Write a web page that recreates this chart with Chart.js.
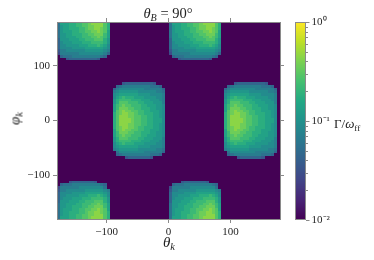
<!DOCTYPE html>
<html>
<head>
<meta charset="utf-8">
<script src="https://cdn.jsdelivr.net/npm/chart.js@4.4.1/dist/chart.umd.min.js"></script>
<style>
  body { margin: 0; background: #fff; }
  #wrap { position: relative; width: 374px; height: 260px; font-family: "Liberation Serif", "Times New Roman", serif; color: #222; }
  canvas { position: absolute; top: 0; }
  .lbl { position: absolute; white-space: nowrap; line-height: 1; }
  .lbl sub { font-size: 70%; vertical-align: baseline; position: relative; top: 0.3em; }
</style>
</head>
<body>
<div id="wrap">
  <canvas id="map" width="374" height="260" style="left:0"></canvas>
  <canvas id="bar" width="84" height="260" style="left:290px"></canvas>
  <div class="lbl" style="left:0;width:336px;top:6px;text-align:center;font-size:14.5px"><i>θ</i><sub><i>B</i></sub> = 90°</div>
  <div class="lbl" style="left:139px;width:60px;top:235px;text-align:center;font-size:15px"><i>θ</i><sub><i>k</i></sub></div>
  <div class="lbl" style="left:-15px;width:60px;top:111px;text-align:center;font-size:15px;transform:rotate(-90deg)"><i>φ</i><sub><i>k</i></sub></div>
  <div class="lbl" style="left:334px;top:117px;font-size:13px">Γ/<i>ω</i><sub>ff</sub></div>
</div>
<script>
// growth rate Γ/ω_ff on 5° cells, one char per cell:
// '.' = below 1e-2, 'a'..'t' = 20 log steps from 1e-2 to 1e0
const levelCode = "abcdefghijklmnopqrst";
const cellSize = 5;

// blobs around phi = 0 (rows from phi 70 down to -70)
const midRows = [
    "...fgggggggggf....",
    ".ghiiiiiiiiihhhg..",
    "gijjjjjjjjiiiiiig.",
    "ijkkkkkkjjjjjjiih.",
    "jkllllllkkkkjjjji.",
    "jlmnmmmlllkkkkjji.",
    "kmnnnnmmmlllkkkji.",
    "kmooonnnmmlllkkki.",
    "lnopoonnnmmlllkkj.",
    "lnpppoonnmmmllkkj.",
    "lopqppoonnmmlllkj.",
    "mopqqpponnmmmllkj.",
    "moqqqppoonnmmllkj.",
    "moqqqqpoonnmmlllj.",
    "moqqqqpoonnmmlllj.",
    "moqqqppoonnmmllkj.",
    "mopqqpponnmmmllkj.",
    "lopqppoonnmmlllkj.",
    "lnpppoonnmmmllkkj.",
    "lnopoonnnmmlllkkj.",
    "kmooonnnmmlllkkki.",
    "kmnnnnmmmlllkkkji.",
    "jlmnmmmlllkkkkjji.",
    "jkllllllkkkkjjjji.",
    "ijkkkkkkjjjjjjiih.",
    ".hjjjjjjjjiiiiiig.",
    ".ghiiiiiiiiihhhg..",
    "....fgggggggf....."
];
const midTheta = [-90, 90];
const midPhiTop = 70;

// blobs at the top edge (rows from phi 180 down to 110)
const topRows = [
    "hlllmmnnoopqqqqom.",
    "hkllmmnnooppqqqom.",
    "hkllmmmnnoppqqpom.",
    "hklllmmnnooppqpol.",
    "hkkllmmmnnoopppnl.",
    "hkklllmmnnnooponl.",
    "gkkklllmmnnnooomk.",
    "gjkkklllmmmnnnnmk.",
    "gjjkkkklllmmmnmlj.",
    "gjjjjkkkkllllllkj.",
    "fiijjjjjjkkkkkkji.",
    "eiiiiiijjjjjjjjig.",
    ".ghhhiiiiiiiiihg..",
    "...fgggggggggf...."
];
// blobs at the bottom edge (rows from phi -110 down to -180)
const bottomRows = [
    "....fgggggggf.....",
    ".ghhhiiiiiiiiihg..",
    "eiiiiiijjjjjjjjh..",
    "fiijjjjjjkkkkkkji.",
    "gjjjjkkkkllllllkj.",
    "gjjkkkklllmmmnmlj.",
    "gjkkklllmmmnnnnmk.",
    "gkkklllmmnnnooomk.",
    "hkklllmmnnnooponl.",
    "hkkllmmmnnoopppnl.",
    "hklllmmnnooppqpol.",
    "hkllmmmnnoppqqpom.",
    "hkllmmnnooppqqqom.",
    "hlllmmnnoopqqqqom."
];
const edgeTheta = [-180, 0];
const topPhiTop = 180;
const bottomPhiTop = -110;

const thetaTicks = [-100, 0, 100];
const phiTicks = [-100, 0, 100];
const cbTicks = [0.01, 0.1, 1];
const cbLabels = ["10\u207B\u00B2", "10\u207B\u00B9", "10\u2070"];
const cbMin = 0.01, cbMax = 1;

const viridis = [[68,1,84],[72,36,117],[65,68,135],[53,95,141],[42,120,142],[33,145,140],
                 [34,168,132],[68,191,112],[122,209,81],[189,223,38],[253,231,37]];

function viridisAt(t) {
    t = Math.max(0, Math.min(1, t));
    const p = t * 10;
    const i = Math.min(9, Math.floor(p));
    const f = p - i;
    const a = viridis[i], b = viridis[i + 1];
    return `rgb(${a.map((c, k) => Math.round(c + (b[k] - c) * f)).join(",")})`;
}

function colorFor(v) {
    return viridisAt((Math.log10(v) - Math.log10(cbMin)) / (Math.log10(cbMax) - Math.log10(cbMin)));
}

function buildCells(rows, thetaStarts, phiTop) {
    const out = [];
    thetaStarts.forEach(t0 => {
        rows.forEach((row, r) => {
            [...row].forEach((ch, j) => {
                const idx = levelCode.indexOf(ch);
                if (idx < 0) return;
                out.push({
                    x: t0 + cellSize * (j + 0.5),
                    y: phiTop - cellSize * (r + 0.5),
                    v: Math.pow(10, -2 + 2 * (idx + 0.5) / levelCode.length)
                });
            });
        });
    });
    return out;
}

const cells = [
    ...buildCells(midRows, midTheta, midPhiTop),
    ...buildCells(topRows, edgeTheta, topPhiTop),
    ...buildCells(bottomRows, edgeTheta, bottomPhiTop)
];

Chart.defaults.font.family = "'Liberation Serif', 'Times New Roman', serif";
Chart.defaults.font.size = 11;
Chart.defaults.color = "#262626";

const frame = "#8a8a8a";

const heatmap = {
    id: "heatmap",
    beforeDraw(chart) {
        const { ctx, chartArea: a, scales: { x, y } } = chart;
        ctx.save();
        ctx.beginPath();
        ctx.rect(a.left, a.top, a.width, a.height);
        ctx.clip();
        ctx.fillStyle = viridisAt(0);
        ctx.fillRect(a.left, a.top, a.width, a.height);
        chart.data.datasets[0].data.forEach(c => {
            const x0 = Math.round(x.getPixelForValue(c.x - cellSize / 2));
            const x1 = Math.round(x.getPixelForValue(c.x + cellSize / 2));
            const y0 = Math.round(y.getPixelForValue(c.y + cellSize / 2));
            const y1 = Math.round(y.getPixelForValue(c.y - cellSize / 2));
            ctx.fillStyle = colorFor(c.v);
            ctx.fillRect(x0, y0, x1 - x0, y1 - y0);
        });
        ctx.restore();
    }
};

function axis(position, tickVals, showLabels, size) {
    const horizontal = position === "top" || position === "bottom";
    return {
        type: "linear",
        position,
        min: -180,
        max: 180,
        afterBuildTicks: s => { s.ticks = tickVals.map(v => ({ value: v })); },
        afterFit: s => { if (horizontal) s.height = size; else s.width = size; },
        grid: { drawOnChartArea: false, drawTicks: true, tickLength: 4, color: frame },
        border: { display: true, color: frame, z: 1 },
        ticks: {
            display: showLabels,
            padding: 3,
            callback: v => (v < 0 ? "\u2212" + Math.abs(v) : String(v))
        }
    };
}

new Chart(document.getElementById("map"), {
    type: "scatter",
    data: { datasets: [{ data: cells, pointRadius: 0, pointHoverRadius: 0 }] },
    options: {
        responsive: false,
        animation: false,
        events: [],
        layout: { padding: { left: 0, right: 86, top: 0, bottom: 0 } },
        plugins: { legend: { display: false }, tooltip: { enabled: false } },
        scales: {
            x: axis("bottom", thetaTicks, true, 41),
            x2: axis("top", thetaTicks, false, 22),
            y: axis("left", phiTicks, true, 57),
            y2: axis("right", phiTicks, false, 8)
        }
    },
    plugins: [heatmap]
});

const colorbar = {
    id: "colorbar",
    beforeDraw(chart) {
        const { ctx, chartArea: a, scales: { y } } = chart;
        for (let py = Math.floor(a.top); py < a.bottom; py++) {
            ctx.fillStyle = colorFor(y.getValueForPixel(py + 0.5));
            ctx.fillRect(a.left, py, a.width, 1);
        }
    },
    afterDraw(chart) {
        const { ctx, chartArea: a, scales: { y } } = chart;
        ctx.save();
        ctx.strokeStyle = frame;
        ctx.lineWidth = 1;
        ctx.strokeRect(Math.round(a.left) + 0.5, Math.round(a.top) + 0.5,
                       Math.round(a.width) - 1, Math.round(a.height) - 1);
        // minor log ticks
        ctx.beginPath();
        [0.01, 0.1].forEach(d => {
            for (let m = 2; m <= 9; m++) {
                const py = Math.round(y.getPixelForValue(d * m)) + 0.5;
                ctx.moveTo(a.right, py);
                ctx.lineTo(a.right + 2, py);
            }
        });
        ctx.stroke();
        ctx.restore();
    }
};

new Chart(document.getElementById("bar"), {
    type: "scatter",
    data: { datasets: [{ data: [] }] },
    options: {
        responsive: false,
        animation: false,
        events: [],
        layout: { padding: { left: 5, right: 0, top: 22, bottom: 40 } },
        plugins: { legend: { display: false }, tooltip: { enabled: false } },
        scales: {
            x: { display: false, min: 0, max: 1 },
            y: {
                type: "logarithmic",
                position: "right",
                min: cbMin,
                max: cbMax,
                afterBuildTicks: s => { s.ticks = cbTicks.map(v => ({ value: v })); },
                afterFit: s => { s.width = 68; },
                grid: { drawOnChartArea: false, drawTicks: true, tickLength: 3.5, color: frame },
                border: { display: false },
                ticks: {
                    padding: 2,
                    callback: v => cbLabels[cbTicks.indexOf(v)]
                }
            }
        }
    },
    plugins: [colorbar]
});
</script>
</body>
</html>
